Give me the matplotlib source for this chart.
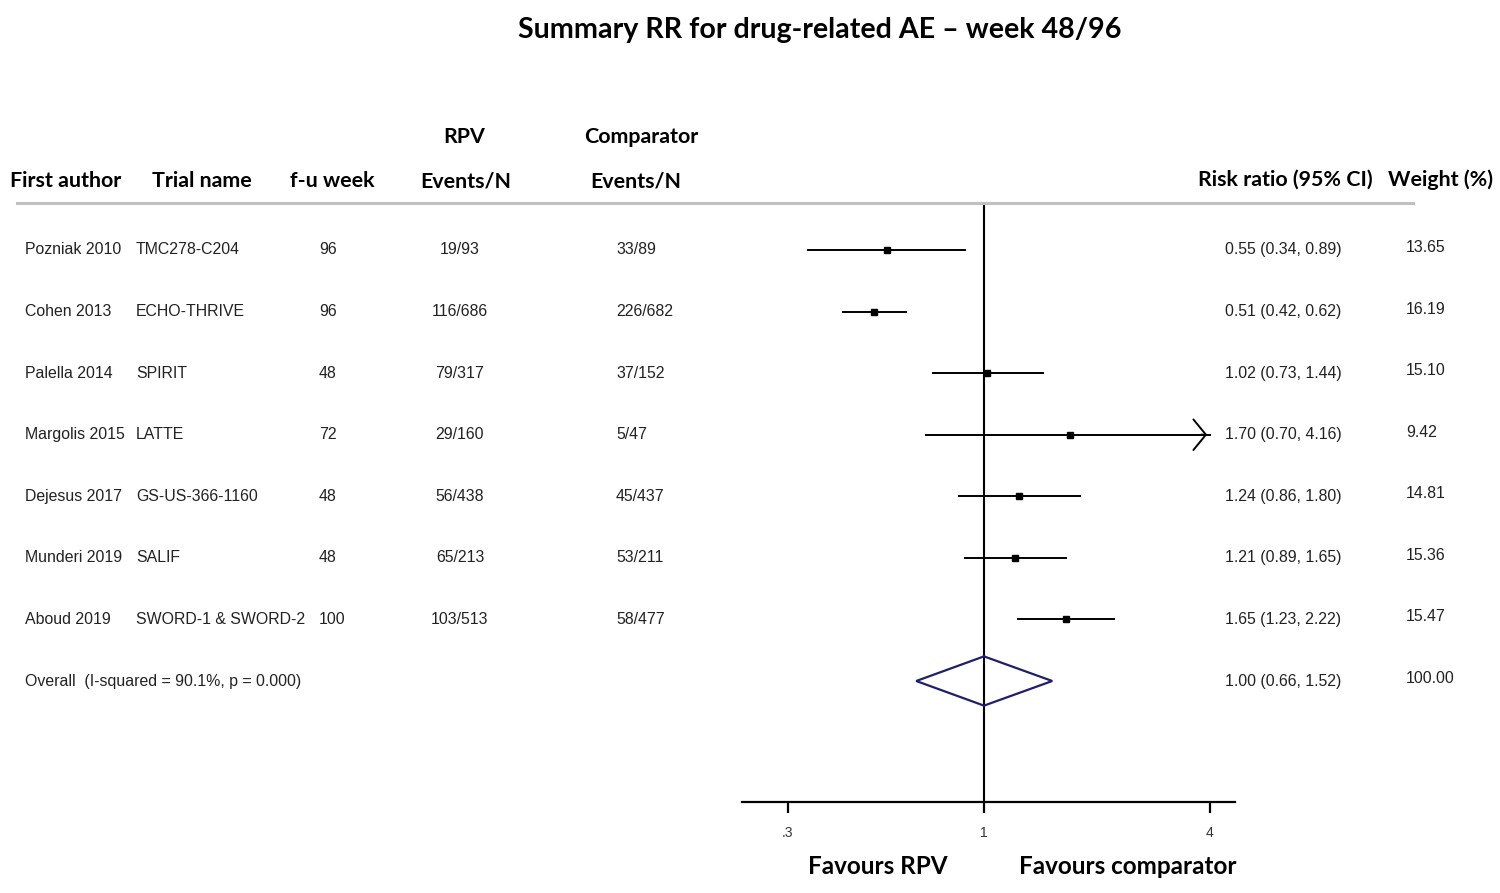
import numpy as np
import matplotlib
matplotlib.use("Agg")
import matplotlib.pyplot as plt
from matplotlib import transforms
from matplotlib.patches import Polygon

authors = ["Pozniak 2010", "Cohen 2013", "Palella 2014", "Margolis 2015",
           "Dejesus 2017", "Munderi 2019", "Aboud 2019"]
trials = ["TMC278-C204", "ECHO-THRIVE", "SPIRIT", "LATTE",
          "GS-US-366-1160", "SALIF", "SWORD-1 & SWORD-2"]
fu_week = ["96", "96", "48", "72", "48", "48", "100"]
rpv_events = ["19/93", "116/686", "79/317", "29/160", "56/438", "65/213", "103/513"]
comp_events = ["33/89", "226/682", "37/152", "5/47", "45/437", "53/211", "58/477"]
rr = [0.55, 0.51, 1.02, 1.70, 1.24, 1.21, 1.65]
ci_lo = [0.34, 0.42, 0.73, 0.70, 0.86, 0.89, 1.23]
ci_hi = [0.89, 0.62, 1.44, 4.16, 1.80, 1.65, 2.22]
weights = ["13.65", "16.19", "15.10", "9.42", "14.81", "15.36", "15.47"]

overall_label = "Overall  (I-squared = 90.1%, p = 0.000)"
overall_rr = 1.00
overall_lo = 0.66
overall_hi = 1.52
overall_weight = "100.00"

xticks = [0.3, 1, 4]
xticklabels = [".3", "1", "4"]
x_clip = 4

W, H = 1500, 893
fig = plt.figure(figsize=(W / 100, H / 100), dpi=100)

hfont = "Lato"
bfont = "Liberation Sans"

def fx(px):
    return px / W

def fy(py):
    return 1 - py / H

# forest panel
ax = fig.add_axes([fx(742), fy(802), fx(1235) - fx(742), fy(203) - fy(802)])
ax.set_xscale("log")
ax.set_xlim(0.2266, 4.664)
ax.set_ylim(8.965, -0.763)
for s in ["top", "right", "left"]:
    ax.spines[s].set_visible(False)
ax.spines["bottom"].set_linewidth(1.6)
ax.set_yticks([])
ax.set_xticks(xticks)
ax.set_xticklabels(xticklabels)
ax.minorticks_off()
ax.tick_params(axis="x", direction="out", length=8, width=1.6, pad=9,
               labelsize=10, labelcolor="#333333")
for lab in ax.get_xticklabels():
    lab.set_fontfamily(bfont)

ax.plot([1, 1], [-0.763, 8.965], color="black", lw=1.5, zorder=1)

n = len(rr)
for i in range(n):
    hi = min(ci_hi[i], x_clip)
    ax.plot([ci_lo[i], hi], [i, i], color="black", lw=1.4, zorder=2)
    if ci_hi[i] > x_clip:
        ax.annotate("", xy=(hi, i), xytext=(hi * 0.93, i),
                    arrowprops=dict(arrowstyle="->,head_length=0.45,head_width=0.55",
                                    lw=1.4, color="black", mutation_scale=20))
    ax.plot(rr[i], i, marker="s", color="black", markersize=5, zorder=3)

yo = n
dh = 0.4
diamond = Polygon([(overall_lo, yo), (overall_rr, yo - dh), (overall_hi, yo), (overall_rr, yo + dh)],
                  closed=True, fill=False, edgecolor="#1f1f6b", lw=1.6, zorder=3)
ax.add_patch(diamond)

# text columns
tr = transforms.blended_transform_factory(fig.transFigure, ax.transData)
fs = 11.4
tc = "#222222"
for i in range(n):
    ax.text(fx(25), i, authors[i], transform=tr, fontsize=fs, family=bfont, va="center", color=tc)
    ax.text(fx(136), i, trials[i], transform=tr, fontsize=fs, family=bfont, va="center", color=tc)
    ax.text(fx(319), i, fu_week[i], transform=tr, fontsize=fs, family=bfont, va="center", color=tc)
    ax.text(fx(460), i, rpv_events[i], transform=tr, fontsize=fs, family=bfont, va="center", ha="center", color=tc)
    ax.text(fx(616), i, comp_events[i], transform=tr, fontsize=fs, family=bfont, va="center", color=tc)
    ax.text(fx(1225), i, "%.2f (%.2f, %.2f)" % (rr[i], ci_lo[i], ci_hi[i]), transform=tr,
            fontsize=fs, family=bfont, va="center", color=tc)
    ax.text(fx(1406), i - 0.04, weights[i], transform=tr, fontsize=fs, family=bfont, va="center", color=tc)

ax.text(fx(25), yo, overall_label, transform=tr, fontsize=fs, family=bfont, va="center", color=tc)
ax.text(fx(1225), yo, "%.2f (%.2f, %.2f)" % (overall_rr, overall_lo, overall_hi), transform=tr,
        fontsize=fs, family=bfont, va="center", color=tc)
ax.text(fx(1406), yo - 0.04, overall_weight, transform=tr, fontsize=fs, family=bfont, va="center", color=tc)

# headers
hfs = 15.4
fig.text(fx(820), fy(30), "Summary RR for drug-related AE \u2013 week 48/96", ha="center", va="center",
         fontsize=20.6, family=hfont, weight="bold")
fig.text(fx(10), fy(181), "First author", fontsize=hfs, family=hfont, weight="bold", va="center")
fig.text(fx(152), fy(181), "Trial name", fontsize=hfs, family=hfont, weight="bold", va="center")
fig.text(fx(290), fy(181), "f-u week", fontsize=hfs, family=hfont, weight="bold", va="center")
fig.text(fx(464), fy(137), "RPV", fontsize=hfs, family=hfont, weight="bold", va="center", ha="center")
fig.text(fx(466), fy(181), "Events/N", fontsize=hfs, family=hfont, weight="bold", va="center", ha="center")
fig.text(fx(641), fy(137), "Comparator", fontsize=hfs, family=hfont, weight="bold", va="center", ha="center")
fig.text(fx(636), fy(181), "Events/N", fontsize=hfs, family=hfont, weight="bold", va="center", ha="center")
fig.text(fx(1285), fy(180), "Risk ratio (95% CI)", fontsize=hfs, family=hfont, weight="bold", va="center", ha="center")
fig.text(fx(1441), fy(180), "Weight (%)", fontsize=hfs, family=hfont, weight="bold", va="center", ha="center")
fig.add_artist(plt.Line2D([fx(17), fx(1413)], [fy(203), fy(203)], color="#c0c0c0", lw=2.2))

ffs = 17.5
fig.text(fx(878), fy(867), "Favours RPV", fontsize=ffs, family=hfont, weight="bold", va="center", ha="center")
fig.text(fx(1128), fy(867), "Favours comparator", fontsize=ffs, family=hfont, weight="bold", va="center", ha="center")

plt.savefig("out.png", dpi=100)
